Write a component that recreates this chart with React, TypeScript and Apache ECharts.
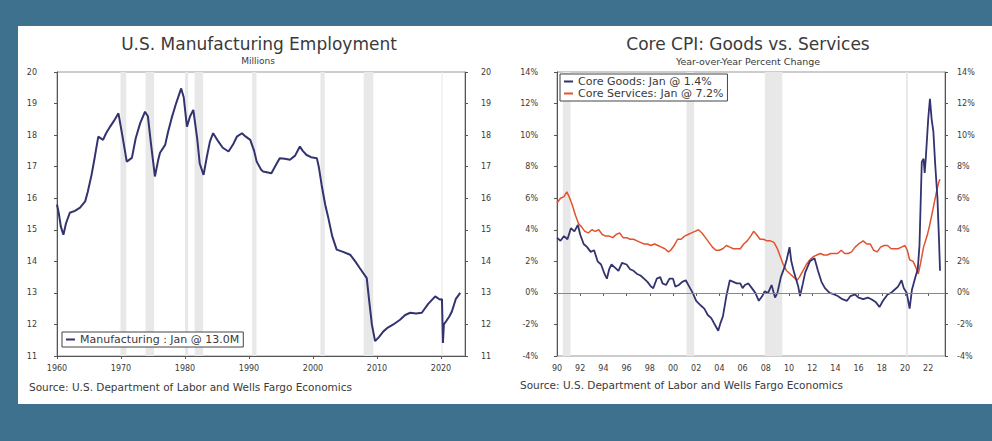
import React, { useEffect, useRef } from "react";
import * as echarts from "echarts";

// U.S. manufacturing employment, millions: [year, value]
const MANUFACTURING: [number, number][] = [
  [1960.0, 15.8], [1960.3, 15.5], [1960.6, 15.1], [1961.0, 14.84], [1961.4, 15.2],
  [1962.0, 15.54], [1962.8, 15.6], [1963.6, 15.7], [1964.4, 15.9], [1964.8, 16.2],
  [1965.4, 16.74], [1965.9, 17.3], [1966.45, 17.95], [1967.2, 17.85], [1967.65, 18.05],
  [1968.3, 18.27], [1968.9, 18.45], [1969.6, 18.69], [1970.2, 18.0], [1970.9, 17.16],
  [1971.7, 17.28], [1972.3, 17.9], [1973.0, 18.38], [1973.75, 18.74], [1974.2, 18.6],
  [1974.7, 17.7], [1975.3, 16.69], [1975.8, 17.2], [1976.1, 17.44], [1976.9, 17.69],
  [1977.35, 18.1], [1977.9, 18.53], [1978.6, 19.0], [1979.4, 19.48], [1979.8, 19.2],
  [1980.3, 18.27], [1980.8, 18.6], [1981.3, 18.8], [1981.9, 17.9], [1982.3, 17.1],
  [1982.9, 16.74], [1983.4, 17.3], [1983.9, 17.8], [1984.4, 18.06], [1985.2, 17.8],
  [1985.9, 17.6], [1986.8, 17.48], [1987.5, 17.7], [1988.1, 17.95], [1988.9, 18.06],
  [1989.5, 17.95], [1990.2, 17.85], [1990.8, 17.5], [1991.2, 17.16], [1991.9, 16.9],
  [1992.2, 16.85], [1993.5, 16.79], [1994.2, 17.05], [1994.8, 17.27], [1995.6, 17.25],
  [1996.4, 17.22], [1997.2, 17.35], [1997.95, 17.64], [1998.4, 17.5], [1999.0, 17.37],
  [1999.7, 17.3], [2000.6, 17.27], [2000.9, 17.0], [2001.35, 16.42], [2001.9, 15.8],
  [2002.4, 15.37], [2003.0, 14.8], [2003.7, 14.37], [2004.7, 14.3], [2005.8, 14.21],
  [2006.6, 14.0], [2007.3, 13.79], [2008.4, 13.47], [2008.75, 12.8], [2009.2, 12.0],
  [2009.7, 11.47], [2010.3, 11.6], [2011.0, 11.78], [2011.7, 11.9], [2012.55, 12.0],
  [2013.6, 12.15], [2014.4, 12.3], [2015.2, 12.37], [2016.1, 12.35], [2017.0, 12.37],
  [2018.0, 12.65], [2019.1, 12.89], [2019.8, 12.79], [2020.15, 12.8], [2020.3, 11.41],
  [2020.45, 12.0], [2020.8, 12.1], [2021.3, 12.25], [2021.7, 12.41], [2022.3, 12.8],
  [2023.0, 13.0],
];

// Core CPI goods, year-over-year %: [year, value]
const CORE_GOODS: [number, number][] = [
  [1990.0, 3.5], [1990.3, 3.3], [1990.6, 3.6], [1990.9, 3.4], [1991.2, 4.1], [1991.5, 3.9],
  [1991.8, 4.3], [1992.0, 3.7], [1992.3, 3.1], [1992.6, 2.9], [1992.9, 2.6], [1993.2, 2.7],
  [1993.5, 2.0], [1993.8, 1.8], [1994.1, 1.2], [1994.3, 0.9], [1994.5, 1.5], [1994.7, 1.8],
  [1995.0, 1.6], [1995.3, 1.4], [1995.6, 1.9], [1996.0, 1.8], [1996.3, 1.5], [1996.6, 1.4],
  [1996.9, 1.2], [1997.2, 1.1], [1997.5, 0.9], [1997.8, 0.7], [1998.1, 0.4], [1998.3, 0.3],
  [1998.6, 0.9], [1998.9, 1.0], [1999.1, 0.6], [1999.4, 0.5], [1999.7, 0.9], [2000.0, 0.9],
  [2000.2, 0.4], [2000.5, 0.5], [2000.8, 0.7], [2001.1, 0.8], [2001.4, 0.4], [2001.7, 0.0],
  [2002.0, -0.5], [2002.4, -0.8], [2002.7, -1.0], [2003.0, -1.4], [2003.3, -1.6], [2003.6, -2.0],
  [2003.9, -2.4], [2004.1, -1.9], [2004.3, -1.5], [2004.6, -0.2], [2004.9, 0.8], [2005.2, 0.7],
  [2005.5, 0.6], [2005.8, 0.6], [2006.0, 0.3], [2006.2, 0.5], [2006.5, 0.6], [2006.8, 0.3],
  [2007.1, 0.0], [2007.4, -0.5], [2007.7, -0.2], [2007.9, 0.1], [2008.2, 0.0], [2008.5, 0.5],
  [2008.8, -0.3], [2009.0, 0.0], [2009.3, 1.0], [2009.6, 1.6], [2009.8, 2.1], [2010.05, 2.9],
  [2010.2, 2.0], [2010.4, 1.4], [2010.6, 0.9], [2010.8, 0.4], [2010.95, -0.2], [2011.2, 0.6],
  [2011.4, 1.3], [2011.8, 2.0], [2012.2, 2.2], [2012.5, 1.4], [2012.8, 0.7], [2013.1, 0.3],
  [2013.5, 0.0], [2013.9, -0.1], [2014.2, -0.2], [2014.6, -0.4], [2015.0, -0.5], [2015.3, -0.2],
  [2015.7, -0.1], [2016.0, -0.3], [2016.4, -0.4], [2016.8, -0.3], [2017.1, -0.4], [2017.5, -0.6],
  [2017.8, -0.9], [2018.1, -0.5], [2018.5, -0.1], [2018.8, 0.0], [2019.1, 0.2], [2019.4, 0.4],
  [2019.7, 0.8], [2019.9, 0.3], [2020.15, 0.0], [2020.4, -1.0], [2020.6, 0.2], [2020.9, 1.0],
  [2021.1, 1.5], [2021.25, 3.0], [2021.4, 7.0], [2021.45, 8.3], [2021.6, 8.5], [2021.7, 7.6],
  [2021.8, 8.6], [2022.0, 11.0], [2022.15, 12.3], [2022.3, 11.0], [2022.45, 10.2], [2022.6, 8.2],
  [2022.8, 6.0], [2022.95, 3.0], [2023.02, 1.4],
];

// Core CPI services, year-over-year %: [year, value]
const CORE_SERVICES: [number, number][] = [
  [1990.0, 5.7], [1990.3, 6.0], [1990.6, 6.1], [1990.85, 6.4], [1991.1, 6.0], [1991.3, 5.6],
  [1991.6, 4.9], [1991.85, 4.4], [1992.1, 4.2], [1992.4, 3.9], [1992.7, 3.8], [1993.0, 4.0],
  [1993.3, 3.9], [1993.6, 4.0], [1993.9, 3.7], [1994.2, 3.6], [1994.5, 3.6], [1994.8, 3.5],
  [1995.1, 3.7], [1995.4, 3.8], [1995.7, 3.5], [1996.0, 3.5], [1996.3, 3.4], [1996.6, 3.4],
  [1996.9, 3.3], [1997.2, 3.2], [1997.5, 3.1], [1997.8, 3.1], [1998.1, 3.0], [1998.4, 3.1],
  [1998.7, 3.0], [1999.0, 2.9], [1999.3, 2.8], [1999.6, 2.6], [1999.8, 2.7], [2000.1, 3.0],
  [2000.4, 3.4], [2000.7, 3.4], [2001.0, 3.6], [2001.3, 3.7], [2001.6, 3.8], [2001.9, 3.9],
  [2002.2, 4.0], [2002.5, 3.8], [2002.8, 3.5], [2003.1, 3.2], [2003.4, 2.9], [2003.7, 2.7],
  [2004.0, 2.7], [2004.3, 2.8], [2004.6, 3.0], [2004.9, 2.9], [2005.2, 2.8], [2005.5, 2.8],
  [2005.8, 2.8], [2006.1, 3.1], [2006.4, 3.3], [2006.7, 3.6], [2006.95, 3.9], [2007.2, 3.7],
  [2007.5, 3.4], [2007.8, 3.4], [2008.1, 3.3], [2008.4, 3.3], [2008.7, 3.2], [2009.0, 2.8],
  [2009.2, 2.4], [2009.5, 1.8], [2009.8, 1.4], [2010.1, 1.2], [2010.4, 1.0], [2010.7, 0.8],
  [2010.9, 1.0], [2011.2, 1.4], [2011.5, 1.8], [2011.8, 2.1], [2012.1, 2.3], [2012.4, 2.4],
  [2012.7, 2.5], [2013.0, 2.4], [2013.3, 2.4], [2013.6, 2.5], [2013.9, 2.5], [2014.2, 2.5],
  [2014.5, 2.7], [2014.8, 2.5], [2015.1, 2.5], [2015.4, 2.6], [2015.7, 2.9], [2016.0, 3.1],
  [2016.4, 3.3], [2016.7, 3.1], [2017.0, 3.1], [2017.3, 2.7], [2017.6, 2.6], [2017.9, 2.9],
  [2018.2, 3.0], [2018.5, 3.0], [2018.8, 2.8], [2019.1, 2.8], [2019.4, 2.8], [2019.7, 2.9],
  [2020.0, 3.0], [2020.2, 2.7], [2020.4, 2.1], [2020.7, 2.0], [2020.95, 1.6], [2021.15, 1.2],
  [2021.35, 1.9], [2021.6, 2.9], [2021.9, 3.6], [2022.1, 4.2], [2022.3, 4.9], [2022.55, 5.8],
  [2022.8, 6.7], [2022.95, 7.1], [2023.02, 7.2],
];

// Recession periods as [start, end] decimal years
const RECESSIONS_MFG: [number, number][] = [
  [1969.92, 1970.83], [1973.83, 1975.17], [1980.0, 1980.5],
  [1981.5, 1982.83], [1990.5, 1991.17], [2001.17, 2001.83], [2007.92, 2009.42], [2020.08, 2020.25],
];
const RECESSIONS_CPI: [number, number][] = [
  [1990.5, 1991.17], [2001.17, 2001.83], [2007.92, 2009.42], [2020.08, 2020.25],
];

const MFG_NAME = "Manufacturing : Jan @ 13.0M";
const GOODS_NAME = "Core Goods: Jan @ 1.4%";
const SERVICES_NAME = "Core Services: Jan @ 7.2%";
const SOURCE = "Source: U.S. Department of Labor and Wells Fargo Economics";

const FONT = "DejaVu Sans";
const TEXT = "#3a3a3a";
const NAVY = "#33336f";
const RED = "#e2522d";

const bands = (list: [number, number][]) =>
  list.map(([a, b]) => [{ xAxis: a }, { xAxis: b }]);

export default function App() {
  const ref = useRef<HTMLDivElement>(null);

  useEffect(() => {
    if (!ref.current) return;
    const chart = echarts.init(ref.current, null, { renderer: "svg" });

    const axisLabel = { color: TEXT, fontSize: 8, fontFamily: FONT };
    const axisLine = { show: true, lineStyle: { color: "#555", width: 1 } };
    const axisTick = { show: true, inside: false, length: 3, lineStyle: { color: "#555" } };

    const yMfg = (pos: "left" | "right") => ({
      type: "value", gridIndex: 0, position: pos, min: 11, max: 20, interval: 1,
      axisLine, axisTick, splitLine: { show: false },
      axisLabel: { ...axisLabel, margin: pos === "left" ? 20 : 16 },
    });
    const yCpi = (pos: "left" | "right") => ({
      type: "value", gridIndex: 1, position: pos, min: -4, max: 14, interval: 2,
      axisLine, axisTick, splitLine: { show: false },
      axisLabel: { ...axisLabel, margin: pos === "left" ? 19 : 12, formatter: (v: number) => `${v}%` },
    });

    const markArea = (list: [number, number][]) => ({
      silent: true,
      itemStyle: { color: "#e8e8e8" },
      data: bands(list),
    });

    const text = (x: number, y: number, t: string, size: number, align = "center") => ({
      type: "text", x, y,
      style: { text: t, fontSize: size, fontFamily: FONT, fill: TEXT, align, verticalAlign: "middle" },
    });

    const legendBase = {
      orient: "vertical", backgroundColor: "#fff", borderColor: "#444", borderWidth: 1, borderRadius: 0,
      icon: "rect", itemWidth: 9, itemHeight: 2,
      textStyle: { color: TEXT, fontSize: 11, fontFamily: FONT },
    };

    chart.setOption({
      animation: false,
      backgroundColor: "#3e718e",
      graphic: [
        { type: "rect", z: -10, shape: { x: 18, y: 26, width: 974, height: 378 }, style: { fill: "#ffffff" } },
        text(259, 44, "U.S. Manufacturing Employment", 17),
        text(258, 61, "Millions", 9),
        text(748, 44, "Core CPI: Goods vs. Services", 17),
        text(748, 61, "Year-over-Year Percent Change", 9.5),
        text(29, 387, SOURCE, 10.5, "left"),
        text(520, 385, SOURCE, 10.5, "left"),
      ],
      grid: [
        { left: 57, top: 72, width: 408, height: 284, show: true, borderColor: "#999", borderWidth: 1, backgroundColor: "transparent" },
        { left: 557, top: 72, width: 388, height: 284, show: true, borderColor: "#999", borderWidth: 1, backgroundColor: "transparent" },
      ],
      xAxis: [
        {
          type: "value", gridIndex: 0, min: 1960, max: 2023.75, interval: 10,
          axisLine, axisTick, splitLine: { show: false },
          axisLabel: { ...axisLabel, margin: 8, showMaxLabel: false, formatter: (v: number) => (v % 10 === 0 ? String(v) : "") },
        },
        {
          type: "value", gridIndex: 1, min: 1990, max: 2023.45, interval: 2,
          axisLine, axisTick, splitLine: { show: false },
          axisLabel: {
            ...axisLabel, margin: 8, showMaxLabel: false,
            formatter: (v: number) => (v % 2 === 0 ? String(v % 100).padStart(2, "0") : ""),
          },
        },
      ],
      yAxis: [yMfg("left"), yMfg("right"), yCpi("left"), yCpi("right")],
      legend: [
        { ...legendBase, data: [MFG_NAME], left: 62, top: 332, padding: [2, 4] },
        { ...legendBase, data: [GOODS_NAME, SERVICES_NAME], left: 560, top: 74, itemGap: 1, padding: [2, 4] },
      ],
      series: [
        {
          name: MFG_NAME, type: "line", xAxisIndex: 0, yAxisIndex: 0,
          data: MANUFACTURING, showSymbol: false, symbol: "none",
          lineStyle: { color: NAVY, width: 2 }, itemStyle: { color: NAVY },
          markArea: markArea(RECESSIONS_MFG),
        },
        {
          name: SERVICES_NAME, type: "line", xAxisIndex: 1, yAxisIndex: 2,
          data: CORE_SERVICES, showSymbol: false, symbol: "none",
          lineStyle: { color: RED, width: 1.5 }, itemStyle: { color: RED },
          markArea: markArea(RECESSIONS_CPI),
        },
        {
          name: GOODS_NAME, type: "line", xAxisIndex: 1, yAxisIndex: 2,
          data: CORE_GOODS, showSymbol: false, symbol: "none",
          lineStyle: { color: NAVY, width: 1.8 }, itemStyle: { color: NAVY },
          markLine: {
            silent: true, symbol: "none", label: { show: false },
            lineStyle: { color: "#888", width: 1, type: "solid" },
            data: [{ yAxis: 0 }],
          },
        },
      ],
    });

    return () => chart.dispose();
  }, []);

  return <div ref={ref} style={{ position: "fixed", left: 0, top: 0, width: 992, height: 441 }} />;
}
